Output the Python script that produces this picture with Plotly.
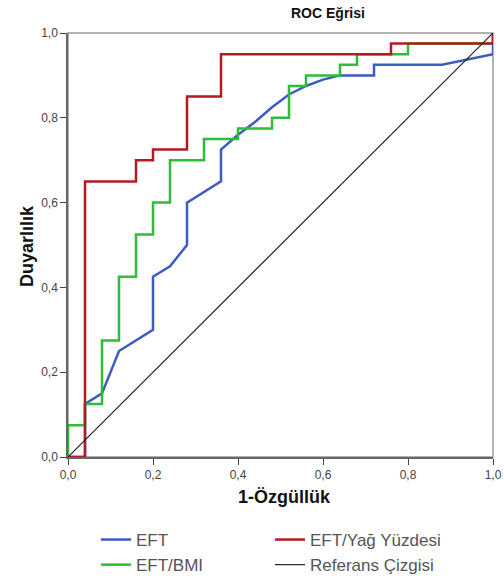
import plotly.graph_objects as go

# EFT (blue)
eft_x = [0, 0.04, 0.04, 0.08, 0.12, 0.20, 0.20, 0.24, 0.28, 0.28, 0.36, 0.36, 0.40, 0.44, 0.48, 0.52, 0.56, 0.60, 0.64, 0.72, 0.72, 0.88, 1.0, 1.0]
eft_y = [0, 0, 0.125, 0.15, 0.25, 0.30, 0.425, 0.45, 0.50, 0.60, 0.65, 0.725, 0.76, 0.79, 0.825, 0.855, 0.875, 0.89, 0.90, 0.90, 0.925, 0.925, 0.95, 1.0]

# EFT/BMI (green)
bmi_x = [0, 0, 0.04, 0.04, 0.08, 0.08, 0.12, 0.12, 0.16, 0.16, 0.20, 0.20, 0.24, 0.24, 0.32, 0.32, 0.40, 0.40, 0.48, 0.48, 0.52, 0.52, 0.56, 0.56, 0.64, 0.64, 0.68, 0.68, 0.80, 0.80, 1.0, 1.0]
bmi_y = [0, 0.075, 0.075, 0.125, 0.125, 0.275, 0.275, 0.425, 0.425, 0.525, 0.525, 0.60, 0.60, 0.70, 0.70, 0.75, 0.75, 0.775, 0.775, 0.80, 0.80, 0.875, 0.875, 0.90, 0.90, 0.925, 0.925, 0.95, 0.95, 0.975, 0.975, 1.0]

# EFT/Yağ Yüzdesi (red)
fat_x = [0, 0.04, 0.04, 0.16, 0.16, 0.20, 0.20, 0.28, 0.28, 0.36, 0.36, 0.76, 0.76, 1.0, 1.0]
fat_y = [0, 0, 0.65, 0.65, 0.70, 0.70, 0.725, 0.725, 0.85, 0.85, 0.95, 0.95, 0.975, 0.975, 1.0]

# Reference line
ref_x = [0, 1]
ref_y = [0, 1]

x_ticks = [0, 0.2, 0.4, 0.6, 0.8, 1.0]
x_tick_labels = ["0,0", "0,2", "0,4", "0,6", "0,8", "1,0"]
y_ticks = [0, 0.2, 0.4, 0.6, 0.8, 1.0]
y_tick_labels = ["0,0", "0,2", "0,4", "0,6", "0,8", "1,0"]

FONT = "Liberation Sans, Arial, sans-serif"

fig = go.Figure()
fig.add_trace(go.Scatter(x=eft_x, y=eft_y, mode="lines", name="EFT",
                         line=dict(color="#3d5cbf", width=2.5), legendrank=1))
fig.add_trace(go.Scatter(x=bmi_x, y=bmi_y, mode="lines", name="EFT/BMI",
                         line=dict(color="#2dbd3a", width=2.5), legendrank=3))
fig.add_trace(go.Scatter(x=fat_x, y=fat_y, mode="lines", name="EFT/Yağ Yüzdesi",
                         line=dict(color="#b01c22", width=2.5), legendrank=2))
fig.add_trace(go.Scatter(x=ref_x, y=ref_y, mode="lines", name="Referans Çizgisi",
                         line=dict(color="#222222", width=1.2), legendrank=4))

axis_common = dict(
    showgrid=False, zeroline=False, showline=True, linecolor="#666666", linewidth=1.5,
    ticks="outside", ticklen=6, tickcolor="#444444", tickwidth=1.2, automargin=False,
    tickfont=dict(family=FONT, size=12, color="#444444"),
)

fig.update_xaxes(range=[0, 1], tickvals=x_ticks, ticktext=x_tick_labels, **axis_common)
fig.update_yaxes(range=[0, 1], tickvals=y_ticks, ticktext=y_tick_labels, **axis_common)

fig.add_shape(type="rect", xref="paper", yref="paper", x0=0, y0=0, x1=1, y1=1,
              line=dict(color="#999999", width=1.5), layer="below")

PW, PH = 425, 424
def px_x(p):
    return (p - 68) / PW
def px_y(p):
    return (457 - p) / PH

fig.add_annotation(text="<b>ROC Eğrisi</b>", xref="paper", yref="paper",
                   x=px_x(328), y=px_y(13), yanchor="middle", xanchor="center", showarrow=False,
                   font=dict(family=FONT, size=14, color="#111111"))
fig.add_annotation(text="<b>1-Özgüllük</b>", xref="paper", yref="paper",
                   x=px_x(284), y=px_y(497), yanchor="middle", xanchor="center", showarrow=False,
                   font=dict(family=FONT, size=18, color="#111111"))
fig.add_annotation(text="<b>Duyarlılık</b>", xref="paper", yref="paper",
                   x=px_x(27), y=px_y(246), yanchor="middle", xanchor="center", showarrow=False,
                   textangle=-90, font=dict(family=FONT, size=18, color="#111111"))

fig.update_layout(
    width=504, height=581,
    margin=dict(l=68, r=11, t=33, b=124, autoexpand=False),
    plot_bgcolor="white", paper_bgcolor="white",
    separators=", ",
    showlegend=True,
    legend=dict(orientation="h", x=px_x(96), xanchor="left", y=px_y(522), yanchor="top",
                entrywidth=129, entrywidthmode="pixels", traceorder="normal",
                font=dict(family=FONT, size=17, color="#555555"),
                bgcolor="rgba(0,0,0,0)"),
)

fig.write_html("out.html", config={"displayModeBar": False},
               post_script="document.body.style.margin='0';document.body.style.padding='0';document.body.style.overflow='hidden';")
